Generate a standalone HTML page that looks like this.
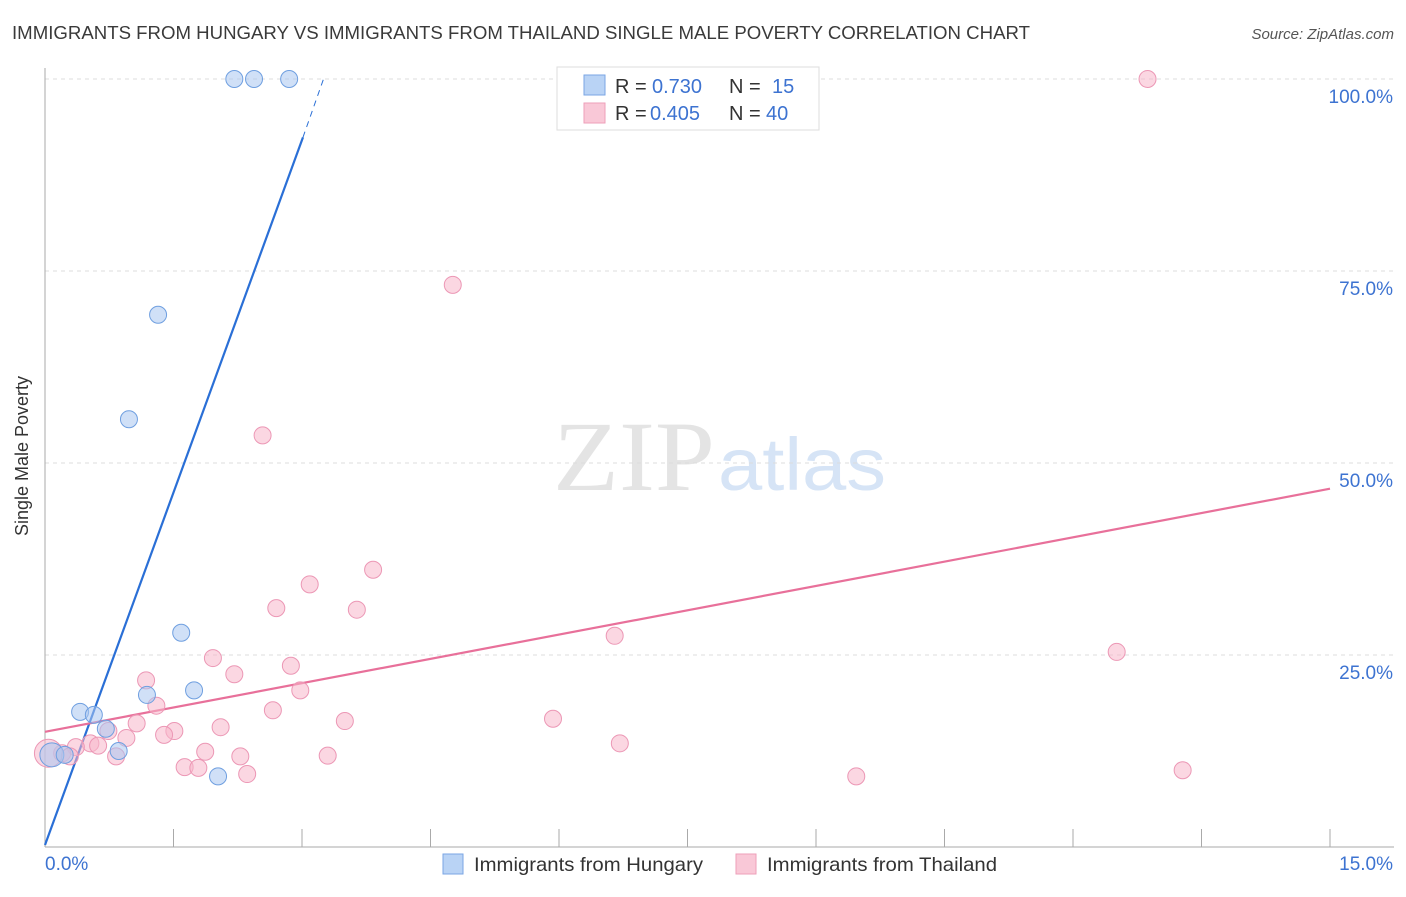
<!DOCTYPE html>
<html><head><meta charset="utf-8"><style>
body{margin:0;background:#fff;font-family:"Liberation Sans",sans-serif;}
svg text{font-family:"Liberation Sans",sans-serif;}
</style></head><body>
<svg id="chart" width="1406" height="892" xmlns="http://www.w3.org/2000/svg">
<text x="12" y="39" font-size="18.5" fill="#3a3a3a" textLength="1018" lengthAdjust="spacingAndGlyphs">IMMIGRANTS FROM HUNGARY VS IMMIGRANTS FROM THAILAND SINGLE MALE POVERTY CORRELATION CHART</text>
<text x="1394" y="39" font-size="15" fill="#555" font-style="italic" text-anchor="end">Source: ZipAtlas.com</text>
<text x="28" y="456" font-size="18" fill="#333" text-anchor="middle" transform="rotate(-90 28 456)">Single Male Poverty</text>
<text x="553" y="490" font-size="100" fill="#e4e4e4" textLength="162" lengthAdjust="spacingAndGlyphs" style="font-family:'Liberation Serif',serif">ZIP</text>
<text x="718" y="490" font-size="74" fill="#d6e4f6" textLength="168" lengthAdjust="spacingAndGlyphs">atlas</text>
<g id="grid"></g><g id="axes"></g><g id="lines"></g><g id="pts"></g>
<g>
<rect x="557" y="67" width="262" height="63" fill="#fff" stroke="#ddd"/>
<rect x="584" y="75" width="21" height="20" fill="#b9d3f5" stroke="#7aa6e4"/>
<rect x="584" y="103" width="21" height="20" fill="#f9c8d7" stroke="#ee9fba"/>
<text x="615" y="93" font-size="20" fill="#333">R = <tspan x="652" fill="#3d73d1">0.730</tspan><tspan x="729">N =</tspan><tspan x="772" fill="#3d73d1">15</tspan></text>
<text x="615" y="120" font-size="20" fill="#333">R = <tspan x="650" fill="#3d73d1">0.405</tspan><tspan x="729">N =</tspan><tspan x="766" fill="#3d73d1">40</tspan></text>
</g>
<g>
<rect x="443" y="854" width="20" height="20" fill="#b9d3f5" stroke="#7aa6e4"/>
<text x="474" y="871" font-size="19.5" fill="#333" textLength="229" lengthAdjust="spacingAndGlyphs">Immigrants from Hungary</text>
<rect x="736" y="854" width="20" height="20" fill="#f9c8d7" stroke="#ee9fba"/>
<text x="767" y="871" font-size="19.5" fill="#333" textLength="230" lengthAdjust="spacingAndGlyphs">Immigrants from Thailand</text>
</g>
</svg>
<script>
const hungaryX=[2.21,2.44,2.85,1.32,0.98,1.59,1.19,1.74,0.41,0.57,0.71,0.86,2.02,0.08,0.23];
const hungaryY=[100,100,100,69.3,55.7,27.9,19.8,20.4,17.6,17.2,15.4,12.5,9.2,12.0,12.0];
const thaiX=[12.87,4.76,2.54,3.83,3.09,2.70,3.64,6.65,12.51,1.96,2.87,2.21,1.18,2.98,1.30,2.66,1.07,5.93,3.50,2.05,1.51,1.39,0.95,0.74,0.53,0.62,0.36,1.87,2.28,3.30,0.83,0.20,6.71,1.63,1.79,2.36,9.47,13.28,0.04,0.29];
const thaiY=[100,73.2,53.6,36.1,34.2,31.1,30.9,27.5,25.4,24.6,23.6,22.5,21.7,20.4,18.4,17.8,16.1,16.7,16.4,15.6,15.1,14.6,14.2,15.1,13.5,13.2,13.0,12.4,11.8,11.9,11.8,12.2,13.5,10.4,10.3,9.5,9.2,10.0,12.2,11.8];
const yTicks=[25,50,75,100];
const yTickLabels=["25.0%","50.0%","75.0%","100.0%"];
const hungaryFit=[0.26,30.6];
const thaiFit=[15.0,2.11];
const NS="http://www.w3.org/2000/svg";
const sx=v=>45+v*1285/15, sy=v=>847-v*7.68;
function mk(p,t,a){const e=document.createElementNS(NS,t);for(const k in a)e.setAttribute(k,a[k]);document.getElementById(p).appendChild(e);return e;}
yTicks.forEach((t,i)=>{
 const g=mk('grid','line',{x1:45,x2:1394,y1:sy(t),y2:sy(t),stroke:'#dcdcdc','stroke-dasharray':'4,4'});
 
 
 const l=mk('grid','text',{x:1393,y:sy(t)+24,'font-size':19,fill:'#3d73d1','text-anchor':'end'});
 l.textContent=yTickLabels[i];
 
 
});
const ax=mk('axes','line',{x1:45,x2:45,y1:68,y2:847,stroke:'#aaa'});


const bx=mk('axes','line',{x1:45,x2:1394,y1:847,y2:847,stroke:'#aaa'});


for(let i=0;i<=10;i++){const x=sx(i*1.5);const t=mk('axes','line',{x1:x,x2:x,y1:829,y2:847,stroke:'#aaa'});
 
 }
[["0.0%",45,'start'],["15.0%",1393,'end']].forEach(a=>{const t=mk('axes','text',{x:a[1],y:870,'font-size':19,fill:'#3d73d1','text-anchor':a[2]});t.textContent=a[0];
 
 });
const xe=(92.4-hungaryFit[0])/hungaryFit[1], xd=(100-hungaryFit[0])/hungaryFit[1];
const hl=mk('lines','line',{x1:sx(0),y1:sy(hungaryFit[0]),x2:sx(xe),y2:sy(hungaryFit[0]+hungaryFit[1]*xe),stroke:'#2a6fd6','stroke-width':2.2});


const hd=mk('lines','line',{x1:sx(xe),y1:sy(hungaryFit[0]+hungaryFit[1]*xe),x2:sx(xd),y2:sy(hungaryFit[0]+hungaryFit[1]*xd)-2,stroke:'#2a6fd6','stroke-width':1,'stroke-dasharray':'6,5'});


const tl=mk('lines','line',{x1:sx(0),y1:sy(thaiFit[0]),x2:sx(15),y2:sy(thaiFit[0]+thaiFit[1]*15),stroke:'#e8709a','stroke-width':2.2});


thaiX.forEach((x,i)=>{const r=i==38?14:8.5;const c=mk('pts','circle',{cx:sx(x),cy:sy(thaiY[i]),r:r,fill:'#f7b6cb','fill-opacity':0.55,stroke:'#ec97b5','stroke-width':1});
 
 });
hungaryX.forEach((x,i)=>{const r=i==13?12:8.5;const c=mk('pts','circle',{cx:sx(x),cy:sy(hungaryY[i]),r:r,fill:'#a9c7f0','fill-opacity':0.55,stroke:'#6f9fe0','stroke-width':1});
 
 });
</script>
</body></html>
